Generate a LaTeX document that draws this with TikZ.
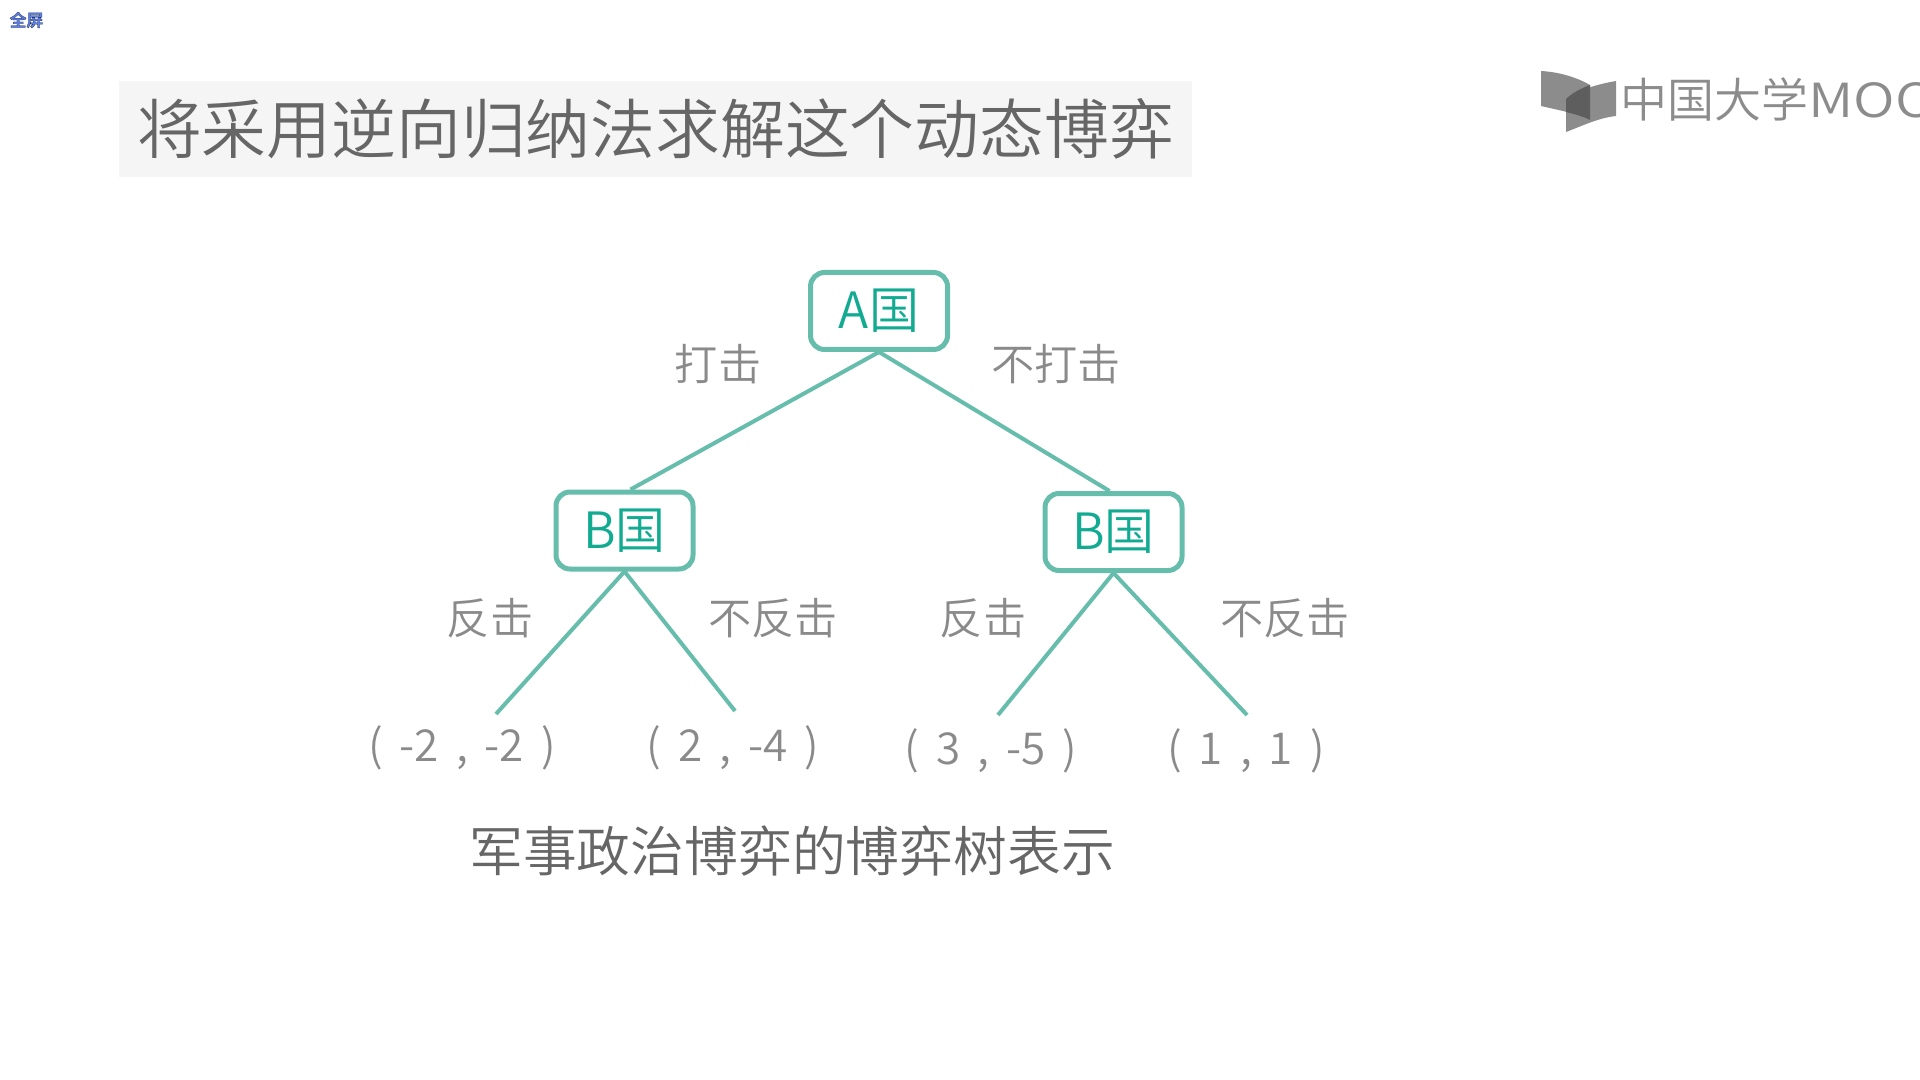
\documentclass[tikz,border=0pt]{standalone}
\usepackage{fontspec}
\setmainfont{Noto Sans CJK SC DemiLight}
\newfontfamily\boldcjk{Noto Sans CJK SC}[UprightFont={* Bold}]
\definecolor{teal1}{HTML}{66BDAC}
\definecolor{teal2}{HTML}{12AB92}
\definecolor{gray1}{HTML}{8A8A8A}
\definecolor{gray2}{HTML}{666666}
\definecolor{titlebg}{HTML}{F5F5F5}
\definecolor{logo1}{HTML}{8C8C8C}
\definecolor{logo2}{HTML}{5E5E5E}
\definecolor{fullblue}{HTML}{5B7FE8}
\newcommand{\pg}{\hspace{3.6pt}}
\tikzset{
  player/.style={draw=teal1,line width=2.5pt,rounded corners=7pt,minimum width=68.5pt,minimum height=38.5pt,inner sep=0pt,text=teal2,font=\fontsize{25}{25}\selectfont},
  edge/.style={draw=teal1,line width=2pt},
  choice/.style={text=gray1,inner sep=0pt,font=\fontsize{21.6}{21.6}\selectfont},
  payoff/.style={text=gray1,inner sep=0pt,font=\fontsize{22}{22}\selectfont},
}
\begin{document}
\begin{tikzpicture}[x=0.5pt,y=-0.5pt]
\useasboundingbox (0,0) rectangle (1920,1080);
% top-left label
\node (full) at (26.5,20) [inner sep=0pt,text=fullblue,font=\boldcjk\fontsize{8.4}{8.4}\selectfont] {\special{pdf: code q 0.16 0.18 0.28 RG 0.12 w 2 Tr}全屏\special{pdf: code 0 Tr Q}};
% title
\node (titlebar) at (655.5,129) [fill=titlebg,minimum width=536.5pt,minimum height=48pt,inner sep=0pt] {};
\node (title) at (655.5,129) [text=gray2,inner sep=0pt,font=\fontsize{32.4}{32.4}\selectfont] {将采用逆向归纳法求解这个动态博弈};
% logo
\fill[logo1] (1541,71) .. controls (1560,72) and (1578,78) .. (1590,85) -- (1590,120) .. controls (1575,113) and (1558,110) .. (1541,106) -- cycle;
\fill[logo1] (1566,99) .. controls (1578,90) and (1598,84) .. (1616,81) -- (1616,116) .. controls (1598,118) and (1582,126) .. (1566,132) -- cycle;
\fill[logo2] (1566,99) .. controls (1572,93) and (1582,88) .. (1590,85) -- (1590,120) .. controls (1582,116) and (1574,114) .. (1566,112) -- cycle;
\begin{scope}
\clip (1600,50) rectangle (1920,150);
\node (logotext) at (1620,99) [anchor=west,text=logo1,inner sep=0pt,font=\fontsize{23.5}{23.5}\selectfont] {中国大学\scalebox{1.2}[1]{MOOC}};
\end{scope}
% tree
\node[player] (a) at (879,311) {A国};
\node[player] (bl) at (624.5,530.5) {B国};
\node[player] (br) at (1113.5,532) {B国};
\coordinate (l1) at (496,714);
\coordinate (l2) at (735,711);
\coordinate (l3) at (998,715);
\coordinate (l4) at (1247,715);
\draw[edge] (a.south) -- ([xshift=3pt]bl.north);
\draw[edge] (a.south) -- ([xshift=-2pt]br.north);
\draw[edge] (bl.south) -- (l1);
\draw[edge] (bl.south) -- (l2);
\draw[edge] (br.south) -- (l3);
\draw[edge] (br.south) -- (l4);
\node[choice] (c1) at (718,364) {打击};
\node[choice] (c2) at (1056,364) {不打击};
\node[choice] (c3) at (490,618) {反击};
\node[choice] (c4) at (773,618) {不反击};
\node[choice] (c5) at (983,618) {反击};
\node[choice] (c6) at (1285,618) {不反击};
\node[payoff] (p1) at (462,748) {(\pg{} -2\pg{} ,\pg{} -2\pg{} )};
\node[payoff] (p2) at (733,748) {(\pg{} 2\pg{} ,\pg{} -4\pg{} )};
\node[payoff] (p3) at (991,751) {(\pg{} 3\pg{} ,\pg{} -5\pg{} )};
\node[payoff] (p4) at (1246,751) {(\pg{} 1\pg{} ,\pg{} 1\pg{} )};
\node (caption) at (792,851) [text=gray2,inner sep=0pt,font=\fontsize{26.9}{26.9}\selectfont] {军事政治博弈的博弈树表示};
\end{tikzpicture}
\end{document}
